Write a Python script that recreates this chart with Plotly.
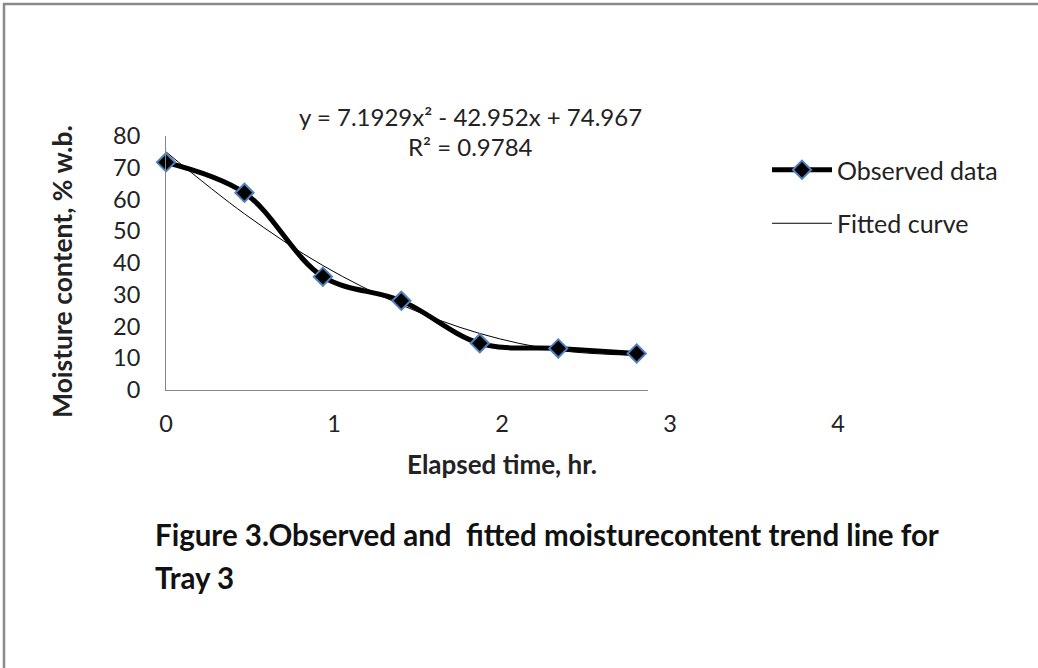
import plotly.graph_objects as go

# ---- data ----
time_hr = [0, 0.5, 1.0, 1.5, 2.0, 2.5, 3.0]
observed = [71.7, 62.1, 35.7, 28.1, 14.7, 13.1, 11.5]
fitted = [75.0, 55.5, 39.2, 26.8, 17.8, 12.5, 10.9]
x_tick_labels = [0, 1, 2, 3, 4]
y_tick_vals = [0, 10, 20, 30, 40, 50, 60, 70, 80]
equation = "y = 7.1929x² - 42.952x + 74.967"
r_squared = "R² = 0.9784"

FONT = "Lato"
W, H = 1038, 668
L, R, T, B = 166, 200, 136, 278
PW, PH = W - L - R, H - T - B


def px(x):
    return (x - L) / PW


def py(y):
    return (H - B - y) / PH


fig = go.Figure()

fig.add_trace(go.Scatter(
    x=time_hr, y=fitted, mode="lines", name="Fitted curve",
    line=dict(color="black", width=1, shape="spline", smoothing=1),
    cliponaxis=False, legendrank=2, legendgroup="b",
))
fig.add_trace(go.Scatter(
    x=time_hr, y=observed, mode="lines+markers", name="Observed data",
    line=dict(color="black", width=5, shape="spline", smoothing=1),
    marker=dict(symbol="diamond", size=14, color="black",
                line=dict(color="#4F81BD", width=2)),
    cliponaxis=False, legendrank=1, legendgroup="a",
))

# empty trace so the label-only axis (x2/y2) is drawn
fig.add_trace(go.Scatter(x=[], y=[], xaxis="x2", yaxis="y2", showlegend=False,
                         hoverinfo="skip"))

fig.update_layout(
    width=W, height=H,
    margin=dict(l=L, r=R, t=T, b=B, pad=0),
    paper_bgcolor="white", plot_bgcolor="rgba(0,0,0,0)",
    font=dict(family=FONT, color="#222222"),
    showlegend=True,
    legend=dict(
        x=px(767), y=py(147), xanchor="left", yanchor="top",
        font=dict(family=FONT, size=25, color="#222222"),
        itemwidth=60, tracegroupgap=18, traceorder="grouped",
        bgcolor="rgba(0,0,0,0)",
    ),
    xaxis=dict(
        domain=[0, (648 - L) / PW], range=[0, 3.072], anchor="y",
        showline=True, linecolor="#868686", linewidth=1,
        showgrid=False, zeroline=False, showticklabels=False, ticks="",
    ),
    yaxis=dict(
        range=[0, 80], tickvals=y_tick_vals, anchor="x",
        showline=True, linecolor="#868686", linewidth=1,
        showgrid=False, zeroline=False, ticks="",
        tickfont=dict(family=FONT, size=23.5, color="#222222"),
        ticklabelstandoff=20,
    ),
    xaxis2=dict(
        anchor="y2", side="bottom", domain=[0, 1],
        range=[0, 4], tickvals=x_tick_labels,
        ticktext=[str(v) for v in x_tick_labels],
        showline=False, showgrid=False, zeroline=False, ticks="",
        tickfont=dict(family=FONT, size=23.5, color="#222222"),
        ticklabelstandoff=17,
        title=dict(text="<b>Elapsed time, hr.</b>",
                   font=dict(family=FONT, size=26, color="#222222"),
                   standoff=20),
    ),
    yaxis2=dict(
        anchor="x2", domain=[0, 1], range=[0, 80], visible=False,
        showgrid=False, zeroline=False,
    ),
)

ann = []
ann.append(dict(text=equation, x=px(470), y=py(117), xref="paper", yref="paper",
                showarrow=False, xanchor="center", yanchor="middle",
                font=dict(family=FONT, size=24, color="#222222")))
ann.append(dict(text=r_squared, x=px(470), y=py(146), xref="paper", yref="paper",
                showarrow=False, xanchor="center", yanchor="middle",
                font=dict(family=FONT, size=24, color="#222222")))
ann.append(dict(text="<b>Moisture content, % w.b.</b>", x=px(62), y=py(272),
                xref="paper", yref="paper", showarrow=False, textangle=-90,
                xanchor="center", yanchor="middle",
                font=dict(family=FONT, size=26.5, color="#222222")))
ann.append(dict(text="<b>Figure 3.Observed and  fitted moisturecontent trend line for</b>",
                x=px(153), y=py(534), xref="paper", yref="paper", showarrow=False,
                xanchor="left", yanchor="middle",
                font=dict(family=FONT, size=29.5, color="#111111")))
ann.append(dict(text="<b>Tray 3</b>",
                x=px(153), y=py(577), xref="paper", yref="paper", showarrow=False,
                xanchor="left", yanchor="middle",
                font=dict(family=FONT, size=29.5, color="#111111")))
fig.update_layout(annotations=ann)

# outer frame (left and top edges visible)
fig.add_shape(type="path", xref="paper", yref="paper",
              path=f"M {px(4)} {py(H + 5)} L {px(4)} {py(4)} L {px(W + 5)} {py(4)}",
              line=dict(color="#8a8a8a", width=2.5))

fig.write_html("out.html",
               config={"displayModeBar": False},
               post_script="document.body.style.margin='0';document.body.style.overflow='hidden';")
